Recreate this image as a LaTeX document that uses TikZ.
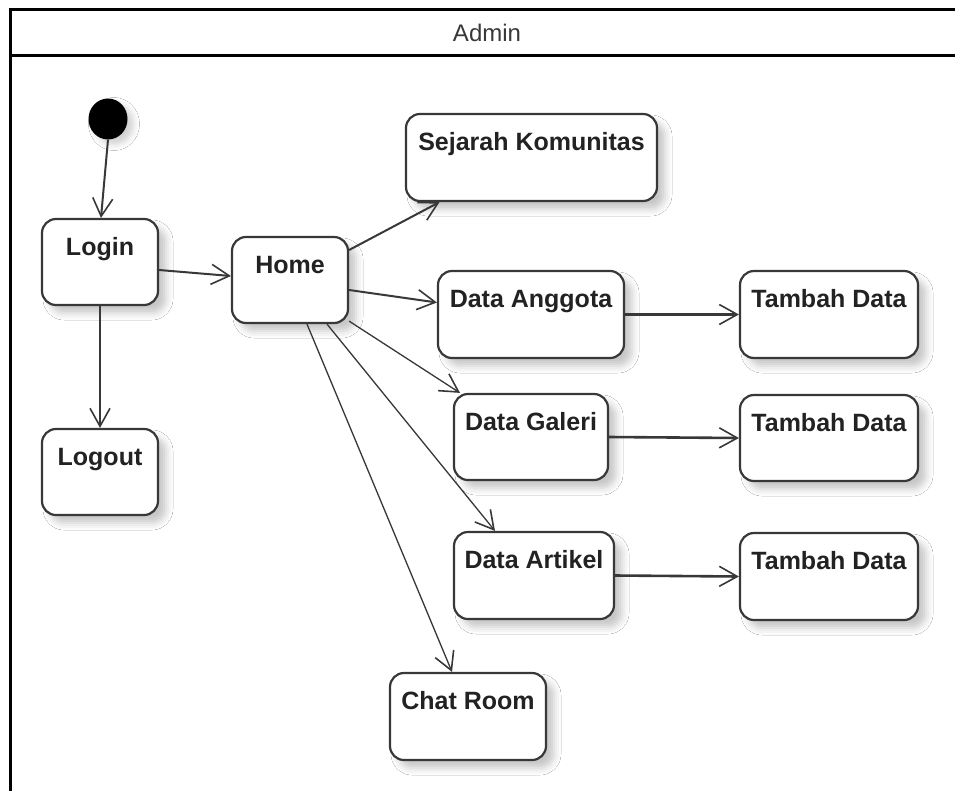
\documentclass[tikz,border=0pt]{standalone}
\usepackage{fontspec}
\setmainfont{Liberation Sans}
\usetikzlibrary{arrows.meta,shadows.blur}

\definecolor{edge}{HTML}{383838}
\definecolor{ink}{HTML}{222222}

\tikzset{
  state/.style={
    draw=edge, line width=2.2pt, rounded corners=14pt, fill=white,
    inner sep=0pt, text=ink,
    font=\fontsize{25}{30}\selectfont\bfseries,
    text height=18pt, text depth=32pt,
    blur shadow={shadow xshift=8pt, shadow yshift=-8pt,
                 shadow blur radius=7pt, shadow opacity=22}},
  flow/.style={draw=edge, line width=2pt,
               -{Straight Barb[length=18pt,width=20pt,line width=1.6pt]}},
  thinflow/.style={flow, line width=1.3pt},
  start/.style={ellipse, fill=black, minimum width=39pt, minimum height=41pt,
                inner sep=0pt,
                blur shadow={shadow xshift=6pt, shadow yshift=-5pt,
                             shadow blur radius=6pt, shadow opacity=18}}
}
\usetikzlibrary{shapes.geometric}

\begin{document}
\begin{tikzpicture}[x=1pt, y=-1pt]
  \useasboundingbox (0,0) rectangle (955,790);
  \fill[white] (0,0) rectangle (955,790);

  % swimlane frame with its title band
  \draw[line width=3pt, black] (10,800) -- (10,9.5) -- (970,9.5);
  \draw[line width=3pt, black] (10,55) -- (970,55);
  \node[font=\fontsize{24}{28}\selectfont, text=ink!90] (lane) at (487,33) {Admin};

  % states
  \node[start] (init) at (108,119) {};
  \node[state, minimum width=116pt, minimum height=86pt] (login)  at (100,262)   {Login};
  \node[state, minimum width=116pt, minimum height=86pt] (logout) at (100,472)   {Logout};
  \node[state, minimum width=116pt, minimum height=86pt] (home)   at (290,280)   {Home};
  \node[state, minimum width=251pt, minimum height=87pt] (sejarah) at (531.5,157.5) {Sejarah Komunitas};
  \node[state, minimum width=186pt, minimum height=87pt] (anggota) at (531,314.5) {Data Anggota};
  \node[state, minimum width=154pt, minimum height=86pt] (galeri)  at (531,437)   {Data Galeri};
  \node[state, minimum width=160pt, minimum height=87pt] (artikel) at (534,575.5) {Data Artikel};
  \node[state, minimum width=156pt, minimum height=87pt] (chat)    at (468,716.5) {Chat Room};
  \node[state, minimum width=178pt, minimum height=87pt] (tambahA) at (829,314.5) {Tambah Data};
  \node[state, minimum width=178pt, minimum height=86pt] (tambahB) at (829,438)   {Tambah Data};
  \node[state, minimum width=178pt, minimum height=87pt] (tambahC) at (829,576.5) {Tambah Data};

  % transitions
  \draw[flow] (init.south) -- ([xshift=1pt]login.north);
  \draw[flow] ([yshift=-8pt]login.east) -- ([yshift=4pt]home.west);
  \draw[flow] (login.south) -- (logout.north);
  \draw[flow] ([yshift=30pt]home.east) -- ([xshift=-92pt]sejarah.south);
  \draw[flow] ([yshift=-10pt]home.east) -- ([yshift=12pt]anggota.west);
  \draw[thinflow] ([yshift=3pt]home.south east) -- ([xshift=-71pt]galeri.north);
  \draw[thinflow] ([xshift=37pt]home.south) -- ([xshift=-39pt]artikel.north);
  \draw[thinflow] ([xshift=17pt]home.south) -- ([xshift=-16pt]chat.north);
  \draw[flow, line width=2.6pt] (anggota.east) -- (tambahA.west);
  \draw[flow, line width=2.6pt] (galeri.east) -- (tambahB.west);
  \draw[flow, line width=2.6pt] (artikel.east) -- (tambahC.west);
\end{tikzpicture}
\end{document}
